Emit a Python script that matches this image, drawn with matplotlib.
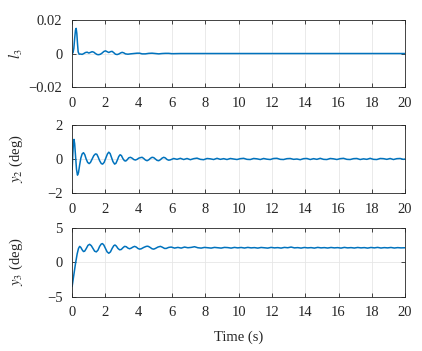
import matplotlib
matplotlib.use("Agg")
import matplotlib.pyplot as plt

plt.rcParams['font.family'] = ['Liberation Serif', 'DejaVu Serif']
plt.rcParams['mathtext.fontset'] = 'stix'
plt.rcParams['font.size'] = 10.5

# l3 signal (time, value)
t_l3 = [0, 0.05, 0.1, 0.15, 0.2, 0.24, 0.28, 0.32, 0.36, 0.42, 0.5, 0.6, 0.7, 0.8, 0.9, 1.0, 1.1, 1.2, 1.3, 1.4,
        1.5, 1.6, 1.7, 1.8, 1.9, 2.0, 2.1, 2.2, 2.3, 2.4, 2.5, 2.6, 2.7, 2.8, 2.9, 3.0, 3.1, 3.2, 3.35, 3.5,
        3.7, 3.9, 4.05, 4.2, 4.4, 4.6, 4.8, 5.0, 5.2, 5.4, 5.6, 5.8, 6.0, 6.5, 7.0, 8.0, 10.0, 14.0, 20.0]
v_l3 = [0.0, 0.0005, 0.003, 0.009, 0.014, 0.015, 0.012, 0.006, 0.001, -0.0004, -0.0003, -0.0005, 0.0, 0.0006, 0.0008,
        0.0003, 0.0007, 0.0011, 0.0008, 0.0, -0.0006, -0.0007, -0.0004, 0.0003, 0.0012, 0.0016, 0.0011, 0.0006, 0.0011,
        0.0013, 0.0005, -0.0004, -0.0006, -0.0003, 0.0003, 0.0007, 0.0004, -0.0002, -0.0004, -0.0002, 0.0, 0.0002,
        0.0002, -0.0002, -0.0002, 0.0001, 0.0002, 0.0, -0.0002, 0.0, 0.0001, 0.0001, -0.0001, 0.0, 0.0, 0.0, 0.0, 0.0, 0.0]

# y2 signal (deg)
t_y2 = [0, 0.04, 0.08, 0.11, 0.15, 0.2, 0.26, 0.32, 0.38, 0.45, 0.52, 0.6, 0.68, 0.76, 0.84, 0.93, 1.02, 1.1, 1.2, 1.3,
        1.4, 1.48, 1.56, 1.65, 1.75, 1.83, 1.92, 2.02, 2.12, 2.2, 2.28, 2.36, 2.45, 2.55, 2.63, 2.72, 2.8, 2.88, 2.96, 3.05,
        3.14, 3.22, 3.3, 3.4, 3.5, 3.6, 3.7, 3.8, 3.9, 4.0, 4.1, 4.2, 4.3, 4.4, 4.5, 4.6, 4.7, 4.8, 4.9, 5.0,
        5.1, 5.2, 5.3, 5.4, 5.5, 5.6, 5.7, 5.8, 5.9, 6.1, 6.3, 6.5, 6.7, 6.9, 7.1, 7.3, 7.5, 7.7, 7.9, 8.1,
        8.3, 8.5, 8.7, 8.9, 9.1, 9.3, 9.5, 9.7, 9.9, 10.1, 10.3, 10.5, 10.7, 10.9, 11.1, 11.3, 11.5, 11.7, 11.9, 12.1,
        12.3, 12.5, 12.7, 12.9, 13.1, 13.3, 13.5, 13.7, 13.9, 14.1, 14.3, 14.5, 14.7, 14.9, 15.1, 15.3, 15.5, 15.7, 15.9, 16.1,
        16.3, 16.5, 16.7, 16.9, 17.1, 17.3, 17.5, 17.7, 17.9, 18.1, 18.3, 18.5, 18.7, 18.9, 19.1, 19.3, 19.5, 19.7, 19.9, 20.0]
v_y2 = [-0.6, 0.3, 1.0, 1.15, 0.9, 0.2, -0.6, -0.95, -0.8, -0.35, 0.05, 0.3, 0.37, 0.25, 0.0, -0.2, -0.27, -0.2, 0.0, 0.2,
        0.3, 0.28, 0.12, -0.1, -0.27, -0.3, -0.2, 0.05, 0.3, 0.4, 0.32, 0.1, -0.15, -0.3, -0.25, -0.05, 0.15, 0.25, 0.2, 0.02,
        -0.1, -0.12, -0.05, 0.07, 0.1, 0.05, -0.03, -0.06, -0.02, 0.05, 0.08, 0.1, 0.03, -0.06, -0.1, -0.05, 0.04, 0.1, 0.08, 0.0,
        -0.08, -0.1, -0.04, 0.05, 0.1, 0.06, -0.03, -0.07, -0.05, 0.03, -0.02, 0.04, -0.03, 0.03, -0.04, 0.02, 0.05, -0.02, -0.04, 0.03,
        0.01, -0.03, 0.04, -0.02, 0.02, -0.03, 0.03, 0.0, -0.03, 0.02, 0.04, -0.02, -0.03, 0.03, 0.01, -0.03, 0.03, -0.01, -0.03, 0.03,
        0.04, -0.02, -0.03, 0.02, 0.03, -0.02, 0.0, -0.04, 0.02, 0.03, -0.03, 0.02, -0.02, 0.04, -0.02, -0.03, 0.03, 0.01, -0.03, 0.02,
        0.04, -0.02, -0.03, 0.02, 0.03, -0.03, 0.01, -0.02, 0.04, -0.02, -0.03, 0.03, 0.02, -0.02, 0.03, -0.03, 0.02, 0.03, -0.02, 0.0]

# y3 signal (deg)
t_y3 = [0, 0.1, 0.2, 0.3, 0.38, 0.45, 0.52, 0.6, 0.68, 0.75, 0.85, 0.95, 1.05, 1.15, 1.25, 1.35, 1.45, 1.55, 1.65, 1.75,
        1.82, 1.9, 2.0, 2.1, 2.2, 2.3, 2.4, 2.5, 2.57, 2.65, 2.75, 2.85, 2.95, 3.05, 3.15, 3.25, 3.35, 3.45, 3.55, 3.65,
        3.75, 3.85, 3.95, 4.05, 4.15, 4.3, 4.45, 4.55, 4.65, 4.8, 4.9, 5.0, 5.15, 5.3, 5.4, 5.55, 5.65, 5.8, 5.95, 6.15,
        6.35, 6.55, 6.75, 6.95, 7.15, 7.35, 7.55, 7.75, 7.95, 8.15, 8.35, 8.55, 8.75, 8.95, 9.15, 9.35, 9.55, 9.75, 9.95, 10.15,
        10.35, 10.55, 10.75, 10.95, 11.15, 11.35, 11.55, 11.75, 11.95, 12.15, 12.35, 12.55, 12.75, 12.95, 13.15, 13.35, 13.55, 13.75, 13.95, 14.15,
        14.35, 14.55, 14.75, 14.95, 15.15, 15.35, 15.55, 15.75, 15.95, 16.15, 16.35, 16.55, 16.75, 16.95, 17.15, 17.35, 17.55, 17.75, 17.95, 18.15,
        18.35, 18.55, 18.75, 18.95, 19.15, 19.35, 19.55, 19.75, 20.0]
v_y3 = [-3.5, -1.8, -0.2, 1.2, 2.0, 2.3, 2.15, 1.8, 1.55, 1.6, 2.0, 2.45, 2.6, 2.4, 2.0, 1.6, 1.5, 1.75, 2.3, 2.65,
        2.7, 2.5, 2.0, 1.5, 1.3, 1.5, 2.0, 2.4, 2.5, 2.35, 2.0, 1.8, 1.85, 2.1, 2.3, 2.25, 2.05, 1.95, 2.05, 2.2,
        2.3, 2.2, 2.0, 1.9, 1.95, 2.15, 2.3, 2.32, 2.2, 1.95, 1.9, 2.0, 2.2, 2.3, 2.2, 2.0, 2.0, 2.15, 2.2, 2.05,
        2.15, 2.05, 2.2, 2.1, 2.15, 2.25, 2.1, 2.05, 2.15, 2.1, 2.05, 2.15, 2.1, 2.05, 2.15, 2.12, 2.05, 2.15, 2.08, 2.14,
        2.06, 2.15, 2.08, 2.12, 2.05, 2.14, 2.1, 2.05, 2.15, 2.08, 2.12, 2.05, 2.15, 2.1, 2.2, 2.08, 2.12, 2.05, 2.14, 2.08,
        2.12, 2.05, 2.15, 2.08, 2.12, 2.06, 2.14, 2.08, 2.12, 2.05, 2.15, 2.08, 2.12, 2.06, 2.14, 2.08, 2.12, 2.05, 2.14, 2.08,
        2.15, 2.06, 2.12, 2.08, 2.14, 2.06, 2.12, 2.08, 2.1]

xticks = [0, 2, 4, 6, 8, 10, 12, 14, 16, 18, 20]
ylims = [(-0.02, 0.02), (-2, 2), (-5, 5)]
yticks = [[-0.02, 0, 0.02], [-2, 0, 2], [-5, 0, 5]]
ytick_labels = [['\u22120.02', '0', '0.02'], ['\u22122', '0', '2'], ['\u22125', '0', '5']]
ylabels = ['$l_3$', '$y_2$ (deg)', '$y_3$ (deg)']
xlabel = 'Time (s)'

line_color = '#0072BD'
fig = plt.figure(figsize=(4.22, 3.51), dpi=100)
positions = [[0.171, 0.752, 0.789, 0.191], [0.171, 0.450, 0.789, 0.194], [0.171, 0.155, 0.789, 0.196]]
series = [(t_l3, v_l3), (t_y2, v_y2), (t_y3, v_y3)]
for i, pos in enumerate(positions):
    ax = fig.add_axes(pos)
    t, v = series[i]
    ax.plot(t, v, color=line_color, lw=1.1)
    ax.set_xlim(0, 20)
    ax.set_ylim(*ylims[i])
    ax.set_xticks(xticks)
    ax.set_yticks(yticks[i])
    ax.set_yticklabels(ytick_labels[i])
    ax.grid(True, color='#e6e6e6', lw=0.6)
    ax.set_axisbelow(True)
    ax.tick_params(direction='in', top=True, right=True, length=3, width=0.6, color='#262626',
                   labelcolor='#262626', labelsize=10.5, pad=7)
    for s in ax.spines.values():
        s.set_color('#262626')
        s.set_linewidth(0.6)
    ax.set_ylabel(ylabels[i], fontsize=10.5, color='#262626')
    ax.yaxis.set_label_coords(-0.141, 0.5)
    if i == 2:
        ax.set_xlabel(xlabel, fontsize=10.5, color='#262626', labelpad=8)

fig.savefig('out.png', dpi=100)
